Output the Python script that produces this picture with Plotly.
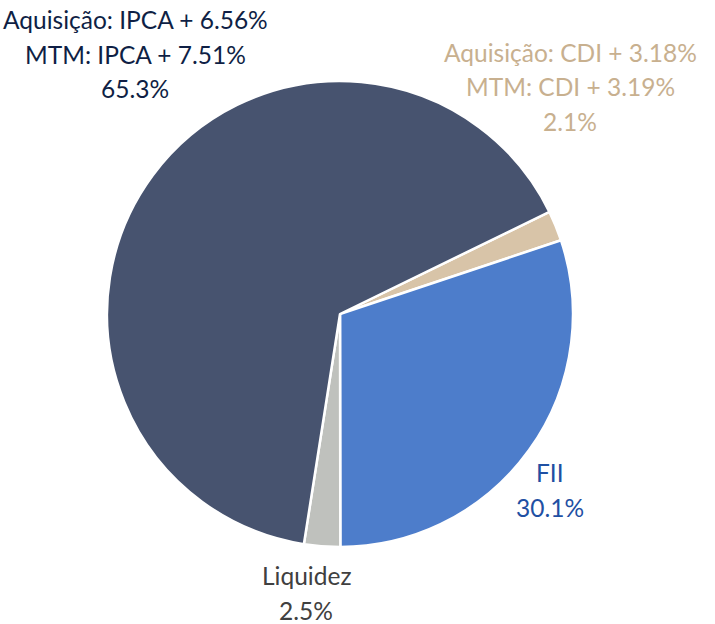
import plotly.graph_objects as go

# slices, clockwise from the CDI wedge
labels = ["CDI", "FII", "Liquidez", "IPCA"]
shares = [2.1, 30.1, 2.5, 65.3]
captions = [
    ["Aquisição: CDI + 3.18%", "MTM: CDI + 3.19%"],
    ["FII"],
    ["Liquidez"],
    ["Aquisição: IPCA + 6.56%", "MTM: IPCA + 7.51%"],
]
slice_colors = ["#d8c4a8", "#4d7dcb", "#bfc1bd", "#47536f"]
text_colors = ["#c8b08f", "#1f50a3", "#404040", "#0f1f45"]

W, H = 715, 624
# label block centres (px) and line spacing
label_pos = [(570, 87), (550, 490), (306, 593), (135, 54)]
line_gap = 35

fig = go.Figure(
    go.Pie(
        labels=labels,
        values=shares,
        sort=False,
        direction="clockwise",
        rotation=64,
        textinfo="none",
        hoverinfo="label+percent",
        marker=dict(colors=slice_colors, line=dict(color="white", width=2.5)),
        domain=dict(x=[107 / W, 573 / W], y=[1 - 547 / H, 1 - 81 / H]),
        showlegend=False,
    )
)

annotations = []
for cap, share, col, (cx, cy) in zip(captions, shares, text_colors, label_pos):
    lines = cap + [f"{share:.1f}%"]
    n = len(lines)
    for i, line in enumerate(lines):
        py = cy + (i - (n - 1) / 2) * line_gap
        annotations.append(
            dict(
                text=line,
                x=cx / W,
                y=1 - py / H,
                xref="paper",
                yref="paper",
                xanchor="center",
                yanchor="middle",
                showarrow=False,
                font=dict(family="Lato", size=24.5, color=col),
            )
        )

fig.update_layout(
    width=W,
    height=H,
    margin=dict(l=0, r=0, t=0, b=0),
    paper_bgcolor="white",
    plot_bgcolor="white",
    annotations=annotations,
)

# drop the default page margin so the figure sits at the window's corner
fig.write_html(
    "out.html",
    config={"displayModeBar": False},
    post_script="document.body.style.margin='0px';",
)
